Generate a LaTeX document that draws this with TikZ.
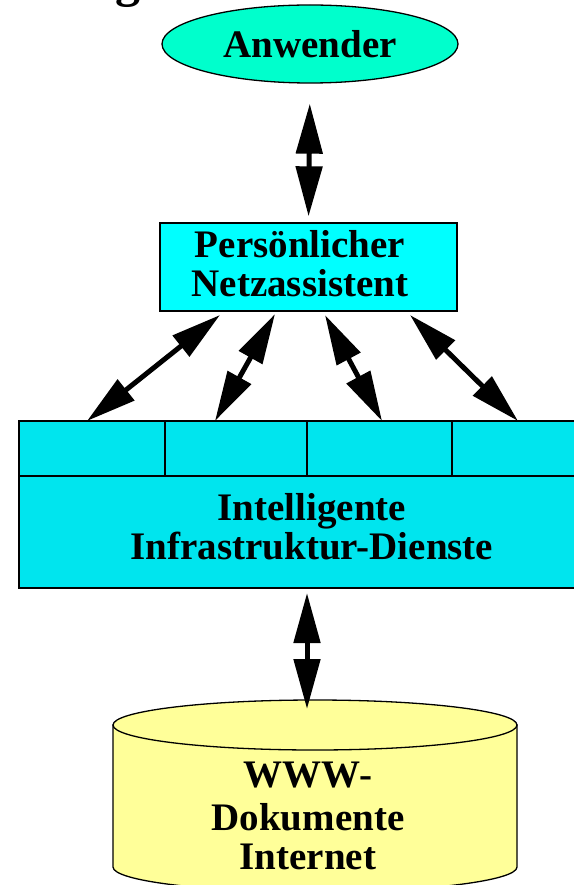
\documentclass[tikz,border=0pt]{standalone}
\usepackage{fontspec}
\setmainfont{Liberation Serif}
\usetikzlibrary{shapes.geometric,arrows.meta}
\definecolor{userfill}{HTML}{00FFCC}
\definecolor{assistfill}{HTML}{00FFFF}
\definecolor{infrafill}{HTML}{00E5EE}
\definecolor{docfill}{HTML}{FFFF99}
\begin{document}
\begin{tikzpicture}[x=1pt,y=-1pt,
  outline/.style={draw=black, line width=1.3pt},
  boldtext/.style={font=\bfseries\fontsize{39}{39}\selectfont, align=center, inner sep=0pt},
  biarrow/.style={line width=5pt,
    {Triangle[length=50pt,width=26pt]}-{Triangle[length=50pt,width=26pt]}},
]
\useasboundingbox (0,0) rectangle (573,885);

% tail of the heading above the diagram
\node[anchor=base west, inner sep=0pt, font=\bfseries\fontsize{50}{50}\selectfont] (heading) at (115,-3) {g};

% user
\node[ellipse, outline, fill=userfill, minimum width=296pt, minimum height=78pt,
      inner sep=0pt, boldtext] (user) at (310,44) {Anwender};

% personal net assistant
\node[rectangle, outline, fill=assistfill, minimum width=297pt, minimum height=88pt,
      inner sep=0pt] (pna) at (308.5,267) {};
\node[boldtext] (pnatext) at (300,264) {Persönlicher\\Netzassistent};

% infrastructure services with four service slots on top
\node[rectangle, outline, fill=infrafill, minimum width=571pt, minimum height=167pt,
      inner sep=0pt] (infra) at (304.5,504.5) {};
\draw[outline] (19,476) -- (590,476);
\draw[outline] (165,421) -- (165,476);
\draw[outline] (307,421) -- (307,476);
\draw[outline] (452,421) -- (452,476);
\node[boldtext] (infratext) at (312,527) {Intelligente\\Infrastruktur-Dienste};

% document store
\filldraw[outline, fill=docfill] (113,725) -- (113,867)
  arc[start angle=180, end angle=360, x radius=202pt, y radius=25pt] -- (517,725) -- cycle;
\filldraw[outline, fill=docfill] (315,725) ellipse[x radius=202pt, y radius=25pt];
\node[boldtext] (docs) at (308,816) {WWW-\\[4pt]Dokumente\\Internet};

% connector end points
\coordinate (pa) at (220,315);
\coordinate (pb) at (275,314);
\coordinate (pc) at (325,315);
\coordinate (pd) at (410,315);
\coordinate (ia) at (87,421);
\coordinate (ib) at (215,421);
\coordinate (ic) at (382,421);
\coordinate (id) at (518,421);
\coordinate (infrabottom) at (307,593);
\coordinate (docstop) at (307,709);

% connectors
\draw[biarrow, shorten <=20pt, shorten >=6pt] (user.south) -- (pna.north);
\draw[biarrow] (pa) -- (ia);
\draw[biarrow] (pb) -- (ib);
\draw[biarrow] (pc) -- (ic);
\draw[biarrow] (pd) -- (id);
\draw[biarrow] (infrabottom) -- (docstop);
\end{tikzpicture}
\end{document}
